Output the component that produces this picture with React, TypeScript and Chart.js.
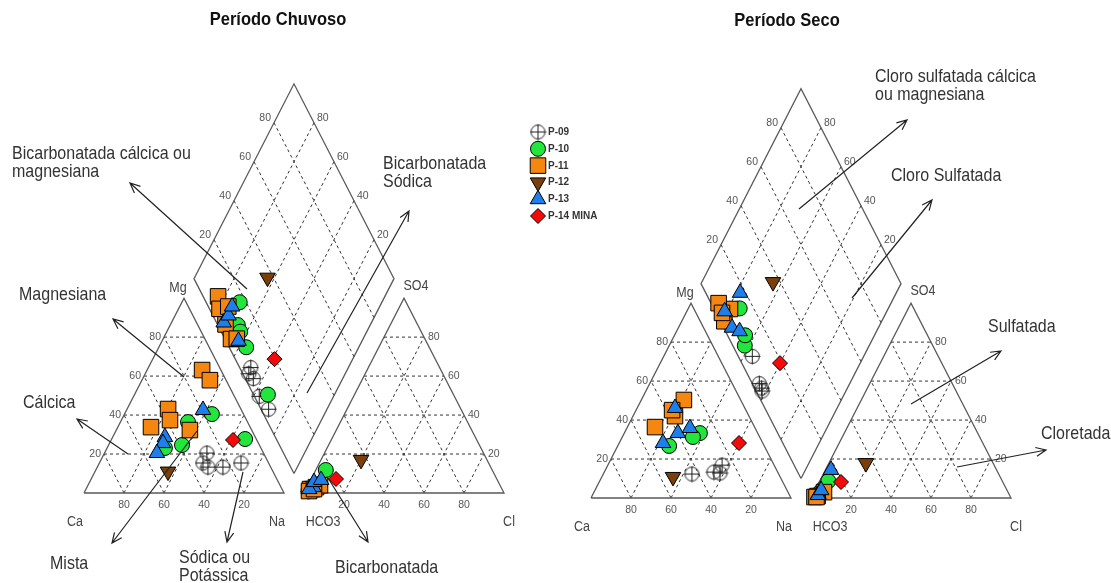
import React, { useEffect, useRef } from "react";
import { Chart, registerables } from "chart.js";

Chart.register(...registerables);

// ---------------- data (% of meq) ----------------
const SAMPLES = ["P-09", "P-10", "P-11", "P-12", "P-13", "P-14 MINA"];
const TICK_VALUES = [20, 40, 60, 80];

// Período Chuvoso
const chuvosoSample = [
  "P-09", "P-09", "P-09", "P-09", "P-09",
  "P-10", "P-10", "P-10", "P-10", "P-10",
  "P-11", "P-11", "P-11", "P-11", "P-11", "P-11",
  "P-12",
  "P-13", "P-13", "P-13", "P-13",
  "P-14 MINA",
];
const chuvosoCa = [28.3, 32.8, 31.4, 23.9, 13.8, 15.8, 29.8, 38.7, 48.0, 5.6, 49.6, 36.4, 38.3, 9.4, 8.1, 30.9, 52.5, 19.2, 45.2, 47.7, 53.3, 11.9];
const chuvosoMg = [20.5, 15.4, 13.3, 13.3, 15.4, 40.5, 36.4, 24.6, 23.1, 27.7, 33.8, 43.1, 37.4, 63.1, 57.9, 32.3, 11.0, 42.6, 28.7, 25.6, 20.5, 27.2];
const chuvosoSO4 = [2.0, 1.0, 1.5, 0.8, 1.2, 4.0, 4.0, 4.5, 11.8, 3.0, 3.0, 2.0, 4.0, 2.0, 1.0, 2.0, 17.0, 3.0, 2.0, 5.6, 6.7, 7.2];
const chuvosoCl = [3.6, 2.0, 2.5, 1.6, 2.6, 4.5, 6.0, 5.0, 5.0, 4.2, 4.5, 3.0, 6.0, 2.0, 2.0, 4.0, 20.0, 3.3, 1.6, 2.2, 5.2, 12.4];

// Período Seco
const secoSample = [
  "P-09", "P-09", "P-09", "P-09",
  "P-10", "P-10", "P-10",
  "P-11", "P-11", "P-11", "P-11",
  "P-12",
  "P-13", "P-13", "P-13", "P-13",
  "P-14 MINA",
];
const secoCa = [43.4, 31.9, 26.0, 29.1, 28.9, 33.4, 47.6, 28.4, 37.0, 49.8, 36.9, 53.6, 34.9, 39.9, 32.6, 49.9, 11.9];
const secoMg = [12.3, 13.3, 16.9, 12.8, 33.3, 31.3, 26.7, 50.3, 42.0, 36.4, 45.1, 10.8, 46.2, 33.3, 35.9, 28.2, 28.2];
const secoSO4 = [2.5, 1.0, 1.5, 1.0, 3.0, 5.0, 8.7, 0.5, 3.0, 1.0, 0.5, 17.9, 2.0, 1.5, 4.0, 14.4, 8.2];
const secoCl = [4.5, 2.5, 2.0, 2.0, 3.0, 3.8, 4.3, 1.5, 5.0, 2.8, 2.5, 18.5, 2.7, 2.7, 3.1, 2.8, 10.9];

// ---------------- layout / geometry ----------------
const W = 1111;
const HGT = 583;
const SQ3 = Math.sqrt(3);
const H = SQ3 / 2;
const GAP = 0.1;
const X_MIN = -0.42;
const X_MAX = X_MIN + W / 200;
const Y_MIN = -0.4;
const Y_MAX = Y_MIN + HGT / 225;
const VSTRETCH = 1.12;
const FONT = '"Liberation Sans", Arial, sans-serif';

const PANELS = [
  { origin: { x: 0, y: 0 }, sample: chuvosoSample, ca: chuvosoCa, mg: chuvosoMg, so4: chuvosoSO4, cl: chuvosoCl },
  { origin: { x: 2.535, y: -0.0222 }, sample: secoSample, ca: secoCa, mg: secoMg, so4: secoSO4, cl: secoCl },
];

const TITLES = [
  { text: "Período Chuvoso", x: 278, y: 20 },
  { text: "Período Seco", x: 787, y: 21 },
];

const NOTES = [
  { lines: ["Bicarbonatada cálcica ou", "magnesiana"], x: 12, y: 154 },
  { lines: ["Bicarbonatada", "Sódica"], x: 383, y: 164 },
  { lines: ["Magnesiana"], x: 19, y: 295 },
  { lines: ["Cálcica"], x: 23, y: 403 },
  { lines: ["Mista"], x: 50, y: 564 },
  { lines: ["Sódica ou", "Potássica"], x: 179, y: 558 },
  { lines: ["Bicarbonatada"], x: 335, y: 568 },
  { lines: ["Cloro sulfatada cálcica", "ou magnesiana"], x: 875, y: 77 },
  { lines: ["Cloro Sulfatada"], x: 891, y: 176 },
  { lines: ["Sulfatada"], x: 988, y: 327 },
  { lines: ["Cloretada"], x: 1041, y: 434 },
];

const ARROWS = [
  [247, 289, 130, 183],
  [307, 393, 409, 211],
  [184, 377, 113, 319],
  [128, 454, 77, 419],
  [197, 431, 112, 543],
  [243, 472, 227, 542],
  [328, 478, 368, 542],
  [799, 209, 907, 120],
  [852, 298, 932, 200],
  [911, 404, 1001, 351],
  [957, 467, 1046, 450],
];

const LEGEND = { x: 538, y: 132, step: 16.8, textX: 548 };

type Pt = { x: number; y: number };

function cationPt(ca: number, mg: number): Pt {
  const na = 1 - ca - mg;
  return { x: na + mg / 2, y: mg * H };
}
function anionPt(so4: number, cl: number): Pt {
  return { x: 1 + GAP + cl + so4 / 2, y: so4 * H };
}
function diamondPt(ca: number, mg: number, so4: number, cl: number): Pt {
  const na = 1 - ca - mg;
  const s = so4 + cl;
  return { x: (1 + GAP + s + na) / 2, y: H * (1 + GAP + s - na) };
}

const BD = { x: 1 + GAP / 2, y: (GAP / 2) * SQ3 };
const U1 = { x: 0.5, y: H };
const U2 = { x: -0.5, y: H };
const add = (a: Pt, b: Pt, k = 1): Pt => ({ x: a.x + b.x * k, y: a.y + b.y * k });

function panelShapes(o: Pt) {
  const sh = (p: Pt): Pt => ({ x: p.x + o.x, y: p.y + o.y });
  const ox = 1 + GAP;
  const outlines: Pt[][] = [
    [{ x: 0, y: 0 }, { x: 1, y: 0 }, { x: 0.5, y: H }, { x: 0, y: 0 }],
    [{ x: ox, y: 0 }, { x: ox + 1, y: 0 }, { x: ox + 0.5, y: H }, { x: ox, y: 0 }],
    [BD, add(BD, U1), add(add(BD, U1), U2), add(BD, U2), BD],
  ].map((poly) => poly.map(sh));
  const grid: (Pt | { x: null; y: null })[] = [];
  const seg = (a: Pt, b: Pt) => {
    grid.push(sh(a), sh(b), { x: null, y: null });
  };
  TICK_VALUES.forEach((t) => {
    const v = t / 100;
    seg({ x: v / 2, y: v * H }, { x: 1 - v / 2, y: v * H });
    seg({ x: 1 - v, y: 0 }, { x: (1 - v) / 2, y: (1 - v) * H });
    seg({ x: v, y: 0 }, { x: v + (1 - v) / 2, y: (1 - v) * H });
    seg({ x: ox + v / 2, y: v * H }, { x: ox + 1 - v / 2, y: v * H });
    seg({ x: ox + v, y: 0 }, { x: ox + v + (1 - v) / 2, y: (1 - v) * H });
    seg({ x: ox + 1 - v, y: 0 }, { x: ox + (1 - v) / 2, y: (1 - v) * H });
    seg(add(BD, U1, v), add(add(BD, U2), U1, v));
    seg(add(BD, U2, v), add(add(BD, U1), U2, v));
  });
  return { outlines, grid };
}

function makeCrossCircle(r: number): HTMLCanvasElement {
  const size = Math.ceil(r * 2) + 3;
  const c = document.createElement("canvas");
  c.width = size;
  c.height = size;
  const g = c.getContext("2d")!;
  const m = size / 2;
  g.strokeStyle = "#222";
  g.lineWidth = 1;
  g.beginPath();
  g.arc(m, m, r, 0, Math.PI * 2);
  g.stroke();
  g.beginPath();
  g.moveTo(m - r - 1, m);
  g.lineTo(m + r + 1, m);
  g.moveTo(m, m - r - 1);
  g.lineTo(m, m + r + 1);
  g.stroke();
  return c;
}

type MStyle = { pointStyle: any; radius: number; rotation: number; bg: string };

function drawMarker(ctx: CanvasRenderingContext2D, st: MStyle, x: number, y: number) {
  ctx.save();
  ctx.fillStyle = st.bg;
  ctx.strokeStyle = "#000";
  ctx.lineWidth = 1;
  const r = st.radius;
  const ps = st.pointStyle;
  if (typeof ps !== "string") {
    ctx.drawImage(ps, x - ps.width / 2, y - ps.height / 2);
    ctx.restore();
    return;
  }
  ctx.beginPath();
  if (ps === "circle") {
    ctx.arc(x, y, r, 0, Math.PI * 2);
  } else if (ps === "rect") {
    const s = r / Math.SQRT2;
    ctx.rect(x - s, y - s, 2 * s, 2 * s);
  } else if (ps === "rectRot") {
    ctx.moveTo(x, y - r);
    ctx.lineTo(x + r, y);
    ctx.lineTo(x, y + r);
    ctx.lineTo(x - r, y);
    ctx.closePath();
  } else if (ps === "triangle") {
    for (let k = 0; k < 3; k++) {
      const a = (st.rotation * Math.PI) / 180 + (k * 2 * Math.PI) / 3;
      const px = x + Math.sin(a) * r;
      const py = y - Math.cos(a) * r;
      if (k === 0) ctx.moveTo(px, py);
      else ctx.lineTo(px, py);
    }
    ctx.closePath();
  }
  ctx.fill();
  ctx.stroke();
  ctx.restore();
}

function drawText(
  ctx: CanvasRenderingContext2D,
  text: string,
  x: number,
  y: number,
  font: string,
  color: string,
  align: CanvasTextAlign
) {
  ctx.save();
  ctx.translate(x, y);
  ctx.scale(1, VSTRETCH);
  ctx.font = font;
  ctx.fillStyle = color;
  ctx.textAlign = align;
  ctx.textBaseline = "middle";
  ctx.fillText(text, 0, 0);
  ctx.restore();
}

function drawArrow(ctx: CanvasRenderingContext2D, x1: number, y1: number, x2: number, y2: number) {
  const ang = Math.atan2(y2 - y1, x2 - x1);
  const len = 11;
  const spread = 0.42;
  ctx.save();
  ctx.strokeStyle = "#222";
  ctx.lineWidth = 1.2;
  ctx.beginPath();
  ctx.moveTo(x1, y1);
  ctx.lineTo(x2, y2);
  ctx.moveTo(x2 - len * Math.cos(ang - spread), y2 - len * Math.sin(ang - spread));
  ctx.lineTo(x2, y2);
  ctx.lineTo(x2 - len * Math.cos(ang + spread), y2 - len * Math.sin(ang + spread));
  ctx.stroke();
  ctx.restore();
}

export default function App() {
  const canvasRef = useRef<HTMLCanvasElement | null>(null);

  useEffect(() => {
    if (!canvasRef.current) return;
    const cross = makeCrossCircle(7);
    const STYLES: Record<string, MStyle> = {
      "P-09": { pointStyle: cross, radius: 8, rotation: 0, bg: "rgba(0,0,0,0)" },
      "P-10": { pointStyle: "circle", radius: 7.5, rotation: 0, bg: "#22E63C" },
      "P-11": { pointStyle: "rect", radius: 11, rotation: 0, bg: "#F5860F" },
      "P-12": { pointStyle: "triangle", radius: 9, rotation: 180, bg: "#7A3F0A" },
      "P-13": { pointStyle: "triangle", radius: 9, rotation: 0, bg: "#1E7FEA" },
      "P-14 MINA": { pointStyle: "rectRot", radius: 7.5, rotation: 0, bg: "#F50A0A" },
    };

    const datasets: any[] = [];
    PANELS.forEach((p) => {
      const { outlines, grid } = panelShapes(p.origin);
      datasets.push({
        type: "line",
        data: grid,
        borderColor: "#333",
        borderWidth: 1,
        borderDash: [3, 3],
        pointRadius: 0,
        fill: false,
        spanGaps: false,
        order: 20,
      });
      outlines.forEach((poly) =>
        datasets.push({
          type: "line",
          data: poly,
          borderColor: "#5a5a5a",
          borderWidth: 1.3,
          pointRadius: 0,
          fill: false,
          order: 10,
        })
      );
    });

    SAMPLES.forEach((s, si) => {
      const pts: Pt[] = [];
      PANELS.forEach((p) => {
        p.sample.forEach((name, i) => {
          if (name !== s) return;
          const ca = p.ca[i] / 100;
          const mg = p.mg[i] / 100;
          const so4 = p.so4[i] / 100;
          const cl = p.cl[i] / 100;
          [cationPt(ca, mg), anionPt(so4, cl), diamondPt(ca, mg, so4, cl)].forEach((q) =>
            pts.push({ x: q.x + p.origin.x, y: q.y + p.origin.y })
          );
        });
      });
      const st = STYLES[s];
      datasets.push({
        type: "scatter",
        label: s,
        data: pts,
        pointStyle: st.pointStyle,
        pointRadius: st.radius,
        pointRotation: st.rotation,
        pointBackgroundColor: st.bg,
        pointBorderColor: "#000",
        pointBorderWidth: 1,
        showLine: false,
        order: 6 - si,
      });
    });

    const textPlugin = {
      id: "piperText",
      beforeDatasetsDraw(chart: any) {
        const ctx: CanvasRenderingContext2D = chart.ctx;
        const xs = chart.scales.x;
        const ys = chart.scales.y;
        const px = (p: Pt) => [xs.getPixelForValue(p.x), ys.getPixelForValue(p.y)];
        const tickFont = `10.5px ${FONT}`;
        const tickCol = "#555";
        const axFont = `12.5px ${FONT}`;
        const axCol = "#444";
        PANELS.forEach((pn) => {
          const o = pn.origin;
          const ox = 1 + GAP;
          const sh = (p: Pt): Pt => ({ x: p.x + o.x, y: p.y + o.y });
          TICK_VALUES.forEach((t) => {
            const v = t / 100;
            const lab = String(t);
            let [a, b] = px(sh({ x: v / 2, y: v * H }));
            drawText(ctx, lab, a - 3, b, tickFont, tickCol, "right");
            [a, b] = px(sh({ x: 1 - v, y: 0 }));
            drawText(ctx, lab, a, b + 12, tickFont, tickCol, "center");
            [a, b] = px(sh({ x: ox + v, y: 0 }));
            drawText(ctx, lab, a, b + 12, tickFont, tickCol, "center");
            [a, b] = px(sh({ x: ox + 1 - v / 2, y: v * H }));
            drawText(ctx, lab, a + 4, b, tickFont, tickCol, "left");
            [a, b] = px(sh(add(add(BD, U2), U1, v)));
            drawText(ctx, lab, a - 3, b - 5, tickFont, tickCol, "right");
            [a, b] = px(sh(add(add(BD, U1), U2, v)));
            drawText(ctx, lab, a + 3, b - 5, tickFont, tickCol, "left");
          });
          let [a, b] = px(sh({ x: 0.5, y: H }));
          drawText(ctx, "Mg", a - 6, b - 10, axFont, axCol, "center");
          [a, b] = px(sh({ x: ox + 0.5, y: H }));
          drawText(ctx, "SO4", a + 12, b - 12, axFont, axCol, "center");
          [a, b] = px(sh({ x: 0, y: 0 }));
          drawText(ctx, "Ca", a - 9, b + 29, axFont, axCol, "center");
          [a, b] = px(sh({ x: 1, y: 0 }));
          drawText(ctx, "Na", a - 7, b + 29, axFont, axCol, "center");
          [a, b] = px(sh({ x: ox, y: 0 }));
          drawText(ctx, "HCO3", a + 19, b + 29, axFont, axCol, "center");
          [a, b] = px(sh({ x: ox + 1, y: 0 }));
          drawText(ctx, "Cl", a + 5, b + 29, axFont, axCol, "center");
        });
      },
      afterDatasetsDraw(chart: any) {
        const ctx: CanvasRenderingContext2D = chart.ctx;
        TITLES.forEach((t) => drawText(ctx, t.text, t.x, t.y, `bold 16.5px ${FONT}`, "#111", "center"));
        NOTES.forEach((n) =>
          n.lines.forEach((ln, i) => drawText(ctx, ln, n.x, n.y + i * 18.5, `16px ${FONT}`, "#333", "left"))
        );
        ARROWS.forEach((a) => drawArrow(ctx, a[0], a[1], a[2], a[3]));
        SAMPLES.forEach((s, i) => {
          const y = LEGEND.y + i * LEGEND.step;
          drawMarker(ctx, STYLES[s], LEGEND.x, y);
          drawText(ctx, s, LEGEND.textX, y, `bold 10px ${FONT}`, "#333", "left");
        });
      },
    };

    const chart = new Chart(canvasRef.current, {
      type: "scatter",
      data: { datasets },
      options: {
        responsive: true,
        maintainAspectRatio: false,
        animation: false,
        events: [],
        layout: { padding: 0, autoPadding: false },
        scales: {
          x: { type: "linear", min: X_MIN, max: X_MAX, display: false },
          y: { type: "linear", min: Y_MIN, max: Y_MAX, display: false },
        },
        plugins: { legend: { display: false }, tooltip: { enabled: false } },
      },
      plugins: [textPlugin],
    } as any);
    return () => chart.destroy();
  }, []);

  return (
    <div style={{ position: "absolute", left: 0, top: 0, width: W, height: HGT, background: "#fff" }}>
      <canvas ref={canvasRef} />
    </div>
  );
}
